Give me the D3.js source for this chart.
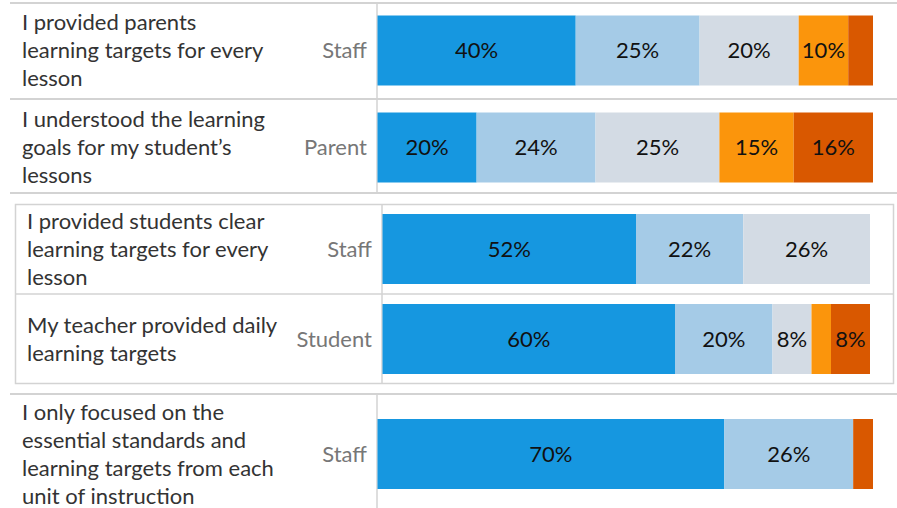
<!DOCTYPE html>
<html>
<head>
<meta charset="utf-8">
<script src="https://cdn.jsdelivr.net/npm/d3@7"></script>
<style>
  body { margin: 0; background: #fff; }
  svg { display: block; font-family: Lato, "Noto Sans", sans-serif; }
</style>
</head>
<body>
<svg id="chart"></svg>
<script>
// categories of the likert scale, left to right
const categories = ["Strongly agree", "Agree", "Neutral", "Disagree", "Strongly disagree"];
const colors = ["#1697e0", "#a5cbe7", "#d3dbe4", "#fb950c", "#d95800"];

const questions = [
  ["I provided parents", "learning targets for every", "lesson"],
  ["I understood the learning", "goals for my student\u2019s", "lessons"],
  ["I provided students clear", "learning targets for every", "lesson"],
  ["My teacher provided daily", "learning targets"],
  ["I only focused on the", "essential standards and", "learning targets from each", "unit of instruction"]
];
const groups = ["Staff", "Parent", "Staff", "Student", "Staff"];

// percent per category, same order as categories
const values = [
  [40, 25, 20, 10, 5],
  [20, 24, 25, 15, 16],
  [52, 22, 26, 0, 0],
  [60, 20, 8, 4, 8],
  [70, 26, 0, 0, 4]
];

// which rows go in which panel
const panelRows = [[0, 1], [2, 3], [4]];

const width = 897, height = 508;
const svg = d3.select("#chart").attr("width", width).attr("height", height);

const panels = [
  { top: 3, bottom: 193, bandTop: 2, bandBottom: 196, left: 10, right: width, divider: 377, barEnd: 873, box: false },
  { top: 204, bottom: 383, bandTop: 204, bandBottom: 384, left: 15, right: 893, divider: 382, barEnd: 870, box: true },
  { top: 394, bottom: 514, bandTop: 394, bandBottom: 514, left: 10, right: width, divider: 377, barEnd: 873, box: false }
];

const lineColor = "#d3d3d3";
const barHeight = 70;
const lineHeight = 28;
const fontSize = 22;

const stack = d3.stack()
  .keys(d3.range(categories.length))
  .value((d, k) => d[k]);

panelRows.forEach(function(rows, pi) {
  const p = panels[pi];
  const g = svg.append("g");

  const x = d3.scaleLinear().domain([0, 100]).range([p.divider + 0.5, p.barEnd]);
  const y = d3.scaleBand().domain(rows).range([p.bandTop, p.bandBottom]);

  // grid lines
  const lines = g.append("g").attr("stroke", lineColor).attr("fill", "none");
  if (p.box) {
    lines.append("rect")
      .attr("x", p.left + 0.5).attr("y", p.top + 0.5)
      .attr("width", p.right - p.left).attr("height", p.bottom - p.top)
      .attr("stroke-width", 1.5);
  } else {
    lines.append("line")
      .attr("x1", p.left).attr("x2", p.right)
      .attr("y1", p.top).attr("y2", p.top)
      .attr("stroke-width", 2);
    if (pi < panels.length - 1) {
      lines.append("line")
        .attr("x1", p.left).attr("x2", p.right)
        .attr("y1", p.bottom).attr("y2", p.bottom)
        .attr("stroke-width", 2);
    }
  }
  rows.slice(1).forEach(function(r) {
    lines.append("line")
      .attr("x1", p.left).attr("x2", p.right)
      .attr("y1", y(r)).attr("y2", y(r))
      .attr("stroke-width", p.box ? 1.5 : 2);
  });
  lines.append("line")
    .attr("x1", p.divider).attr("x2", p.divider)
    .attr("y1", p.top).attr("y2", Math.min(p.bottom, height))
    .attr("stroke-width", 1.5);

  const rowData = rows.map(r => values[r]);
  const series = stack(rowData);

  // bars
  series.forEach(function(s, k) {
    g.append("g").attr("fill", colors[k])
      .selectAll("rect")
      .data(s)
      .join("rect")
      .attr("x", d => x(d[0]))
      .attr("width", d => x(d[1]) - x(d[0]))
      .attr("y", (d, i) => y(rows[i]) + (y.bandwidth() - barHeight) / 2)
      .attr("height", barHeight);

    g.append("g")
      .attr("font-size", fontSize)
      .attr("fill", "#111")
      .attr("text-anchor", "middle")
      .selectAll("text")
      .data(s.map((d, i) => ({ d: d, i: i })).filter(o => o.d[1] - o.d[0] >= 8))
      .join("text")
      .attr("x", o => (x(o.d[0]) + x(o.d[1])) / 2)
      .attr("y", o => y(rows[o.i]) + y.bandwidth() / 2)
      .attr("dy", "0.35em")
      .text(o => (o.d[1] - o.d[0]) + "%");
  });

  // row labels
  rows.forEach(function(r) {
    const cy = y(r) + y.bandwidth() / 2;
    const lns = questions[r];
    const q = g.append("text")
      .attr("font-size", fontSize)
      .attr("fill", "#333");
    lns.forEach(function(t, li) {
      q.append("tspan")
        .attr("x", p.left + 12)
        .attr("y", cy + (li - (lns.length - 1) / 2) * lineHeight)
        .attr("dy", "0.35em")
        .text(t);
    });

    g.append("text")
      .attr("font-size", fontSize)
      .attr("fill", "#777")
      .attr("text-anchor", "end")
      .attr("x", p.divider - 10)
      .attr("y", cy)
      .attr("dy", "0.35em")
      .text(groups[r]);
  });
});
</script>
</body>
</html>
